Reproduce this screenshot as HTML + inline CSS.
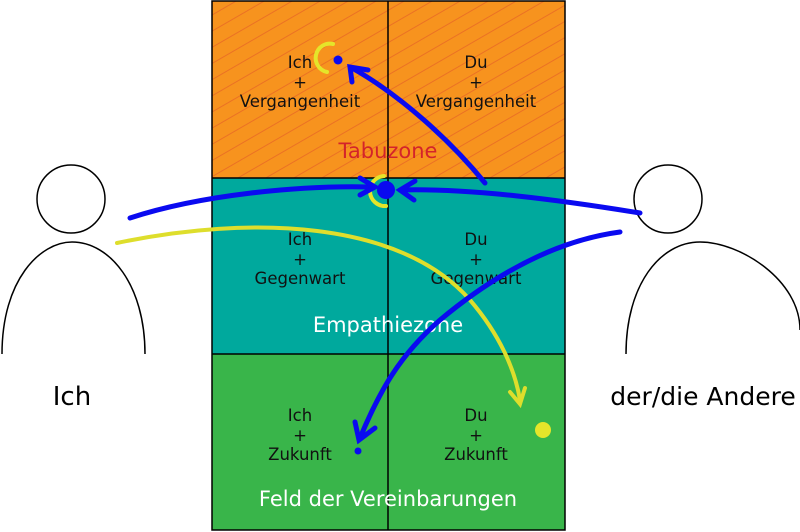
<!DOCTYPE html>
<html><head><style>body{margin:0;background:#fff}svg{display:block}text{font-family:"DejaVu Sans","Liberation Sans",sans-serif}</style></head><body>
<svg width="800" height="532" viewBox="0 0 800 532" xmlns="http://www.w3.org/2000/svg">
<defs><pattern id="h" width="30" height="14" patternUnits="userSpaceOnUse" patternTransform="rotate(-30)"><line x1="0" y1="7" x2="30" y2="7" stroke="#e0502a" stroke-width="0.6"/></pattern></defs>
<rect x="212" y="1" width="353" height="177" fill="#f7931e"/>
<rect x="212" y="1" width="353" height="177" fill="url(#h)"/>
<rect x="212" y="178" width="353" height="176" fill="#00a99d"/>
<rect x="212" y="354" width="353" height="176" fill="#39b54a"/>
<g stroke="#000" stroke-width="1.5" fill="none">
<rect x="212" y="1" width="353" height="529"/>
<line x1="212" y1="178" x2="565" y2="178"/><line x1="212" y1="354" x2="565" y2="354"/>
<line x1="388" y1="1" x2="388" y2="530"/>
<circle cx="71" cy="199" r="34"/><circle cx="668" cy="199" r="34"/>
<path d="M2,354 C2,280 40,242 72,242 C110,242 145,285 145,354"/>
<path d="M626,354 C626,285 660,242 700,242 C740,242 800,280 800,330"/>
</g>
<g font-size="16.5" text-anchor="middle" fill="#111">
<text x="300" y="68">Ich</text><text x="300" y="88">+</text><text x="300" y="107">Vergangenheit</text>
<text x="476" y="68">Du</text><text x="476" y="88">+</text><text x="476" y="107">Vergangenheit</text>
<text x="300" y="245">Ich</text><text x="300" y="265">+</text><text x="300" y="284">Gegenwart</text>
<text x="476" y="245">Du</text><text x="476" y="265">+</text><text x="476" y="284">Gegenwart</text>
<text x="300" y="421">Ich</text><text x="300" y="441">+</text><text x="300" y="460">Zukunft</text>
<text x="476" y="421">Du</text><text x="476" y="441">+</text><text x="476" y="460">Zukunft</text>
</g>
<text x="388" y="158" font-size="21" text-anchor="middle" fill="#d4242a">Tabuzone</text>
<text x="388" y="332" font-size="21" text-anchor="middle" fill="#fff">Empathiezone</text>
<text x="388" y="506" font-size="21" text-anchor="middle" fill="#fff">Feld der Vereinbarungen</text>
<text x="72" y="405" font-size="26" text-anchor="middle">Ich</text>
<text x="703" y="405" font-size="25" text-anchor="middle">der/die Andere</text>
<g fill="none" stroke-linecap="round">
<path d="M333,44 A12,12 0 0 0 327,72" stroke="#e5e52a" stroke-width="4"/>
<path d="M384,176 A14,14 0 0 0 386,206" stroke="#e5e52a" stroke-width="4"/>
<path d="M117,243 C250,215 400,220 470,300 C500,335 515,370 520,400" stroke="#dede2c" stroke-width="4"/>
<path d="M510,392 L520,404 L525,388" stroke="#dede2c" stroke-width="4"/>
<g stroke="#0a0af0" stroke-width="5">
<path d="M130,218 C200,195 300,185 372,187"/>
<path d="M360,178 L375,187 L360,195"/>
<path d="M640,213 C560,200 470,188 400,190"/>
<path d="M415,181 L400,190 L414,200"/>
<path d="M485,183 C450,140 400,95 352,68"/>
<path d="M352,82 L350,67 L368,70"/>
<path d="M620,232 C560,240 500,270 440,320 C400,355 380,390 360,438"/>
<path d="M355,422 L359,440 L375,428"/>
</g>
</g>
<circle cx="338" cy="60" r="4.5" fill="#0a0af0"/>
<circle cx="386" cy="190" r="9" fill="#0a0af0"/>
<circle cx="358" cy="451" r="3.5" fill="#0a0af0"/>
<circle cx="543" cy="430" r="8" fill="#e5e52a"/>
</svg>
</body></html>
